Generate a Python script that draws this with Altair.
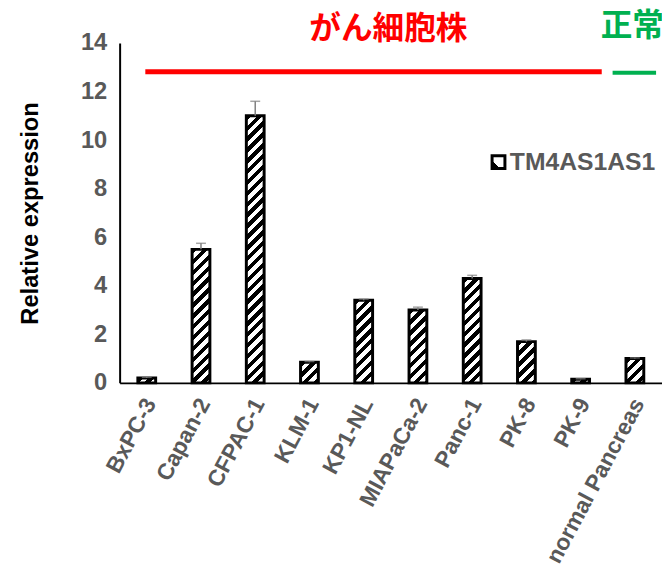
import altair as alt
import pandas as pd

# ---- data ----
cells = ["BxPC-3", "Capan-2", "CFPAC-1", "KLM-1", "KP1-NL",
         "MIAPaCa-2", "Panc-1", "PK-8", "PK-9", "normal Pancreas"]
values = [0.2, 5.5, 11.0, 0.85, 3.4, 3.0, 4.3, 1.7, 0.15, 1.0]
errors = [0.03, 0.25, 0.6, 0.03, 0.05, 0.12, 0.13, 0.07, 0.02, 0.03]
y_ticks = [0, 2, 4, 6, 8, 10, 12, 14]
series_name = ["TM4AS1AS1"]
cancer_label = ["がん細胞株"]
normal_label = ["正常"]

# ---- style ----
W, H = 549, 344
Y_MAX = 14
BAR_W = 18
PERIOD = 11
FONT = "Liberation Sans"
GRAY = "#595959"
FS = 24

df = pd.DataFrame({"cell": cells, "value": values, "err": errors})
df["top"] = df["value"] + df["err"]


def hatch(h, w=BAR_W, period=PERIOD):
    """Diagonal '/' stripes as a linear gradient in bounding-box units."""
    h = max(h, 1.0)
    s = w + h
    k = s / (w * w + h * h)
    T = period / s
    stops = []
    t = 0.0
    while t < 1:
        a = round(min(t, 1), 5)
        b = round(min(t + T / 2, 1), 5)
        c = round(min(t + T, 1), 5)
        stops += [
            {"offset": a, "color": "black"},
            {"offset": b, "color": "black"},
            {"offset": b, "color": "white"},
            {"offset": c, "color": "white"},
        ]
        t += T
    return {"gradient": "linear", "x1": 0, "y1": 0,
            "x2": round(w * k, 5), "y2": round(h * k, 5), "stops": stops}


x_enc = alt.X(
    "cell:N", sort=cells,
    scale=alt.Scale(domain=cells, paddingInner=0, paddingOuter=0),
    axis=alt.Axis(title=None, labelAngle=-62, labelAlign="right",
                  labelBaseline="middle", labelPadding=17, labelOffset=4,
                  ticks=False, domainColor="black", domainWidth=2,
                  labelFont=FONT, labelFontWeight="bold", labelFontSize=23,
                  labelColor=GRAY, labelLimit=0),
)
y_scale = alt.Scale(domain=[0, Y_MAX], nice=False)
y_axis = alt.Axis(values=y_ticks, grid=False, ticks=False, domainColor="black",
                  domainWidth=2, labelPadding=13, labelFont=FONT,
                  labelFontWeight="bold", labelFontSize=FS, labelColor=GRAY,
                  title="Relative expression", titleFont=FONT,
                  titleFontWeight="bold", titleFontSize=FS, titleColor="black",
                  titlePadding=38)

base = alt.Chart(df)
layers = []
for name, v in zip(cells, values):
    hpx = v / Y_MAX * H
    layers.append(
        base.transform_filter(alt.datum.cell == name)
        .mark_bar(width=BAR_W, fill=hatch(hpx), stroke="black", strokeWidth=3)
        .encode(x=x_enc, y=alt.Y("value:Q", scale=y_scale, axis=y_axis))
    )

err_rule = base.mark_rule(color="#7f7f7f", strokeWidth=1.5).encode(
    x=x_enc, y=alt.Y("value:Q", scale=y_scale), y2="top:Q")
err_cap = base.mark_tick(color="#7f7f7f", thickness=1.5, size=10).encode(
    x=x_enc, y=alt.Y("top:Q", scale=y_scale))

red_text = alt.Chart(pd.DataFrame({"t": cancer_label})).mark_text(
    font="Noto Sans CJK JP", fontWeight="bold", fontSize=32, color="#FF0000",
    align="center", baseline="alphabetic").encode(
    x=alt.value(272), y=alt.value(-4), text="t:N")
green_text = alt.Chart(pd.DataFrame({"t": normal_label})).mark_text(
    font="Noto Sans CJK JP", fontWeight="bold", fontSize=32, color="#00B050",
    align="left", baseline="alphabetic").encode(
    x=alt.value(487), y=alt.value(-7), text="t:N")
red_line = alt.Chart(pd.DataFrame({"a": [0]})).mark_rule(
    color="#FF0000", strokeWidth=5).encode(
    x=alt.value(26), x2=alt.value(488), y=alt.value(29))
green_line = alt.Chart(pd.DataFrame({"a": [0]})).mark_rule(
    color="#00B050", strokeWidth=4).encode(
    x=alt.value(499), x2=alt.value(543), y=alt.value(30))

legend_sym = alt.Chart(pd.DataFrame({"a": [0]})).mark_rect(
    fill={"gradient": "linear", "x1": 0, "y1": 1, "x2": 1, "y2": 0,
          "stops": [{"offset": 0, "color": "black"},
                    {"offset": 0.3, "color": "black"},
                    {"offset": 0.3, "color": "white"},
                    {"offset": 1, "color": "white"}]},
    stroke="black", strokeWidth=3).encode(
    x=alt.value(377), x2=alt.value(390), y=alt.value(114), y2=alt.value(127))
legend_txt = alt.Chart(pd.DataFrame({"t": series_name})).mark_text(
    font=FONT, fontWeight="bold", fontSize=25, color=GRAY,
    align="left", baseline="alphabetic").encode(
    x=alt.value(395), y=alt.value(129), text="t:N")

chart = alt.layer(
    *layers, err_rule, err_cap, red_line, green_line, red_text, green_text,
    legend_sym, legend_txt
).properties(
    width=W, height=H,
    autosize=alt.AutoSizeParams(type="none"),
    padding={"left": 113, "top": 32, "right": 0, "bottom": 190},
    background="white",
).configure_view(stroke=None)

chart.save("out.html", embed_options={"renderer": "svg", "actions": False})
